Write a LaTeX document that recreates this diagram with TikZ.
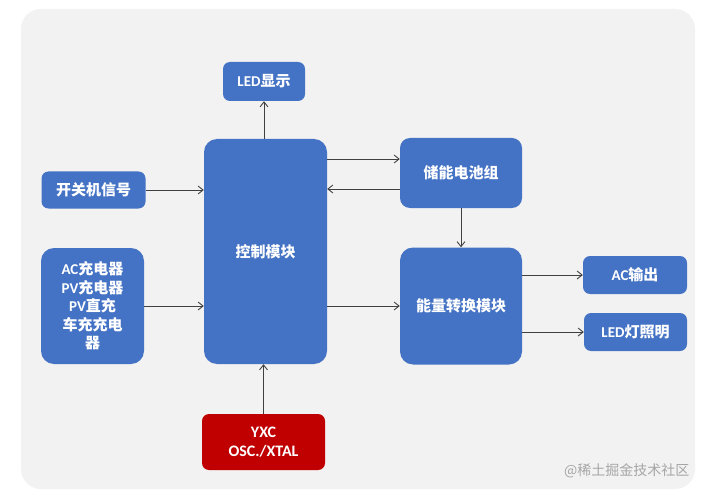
\documentclass[tikz,border=0pt]{standalone}
\usepackage{fontspec}
\setmainfont{Carlito}
\newfontfamily\cjk{Noto Sans CJK SC}
\newfontfamily\latf{Carlito}
\newcommand\lat[1]{{\latf\bfseries #1}}
\usetikzlibrary{arrows.meta}
\definecolor{bgray}{HTML}{F2F2F2}
\definecolor{boxblue}{HTML}{4472C4}
\definecolor{boxred}{HTML}{C00000}
\definecolor{linec}{HTML}{404040}
\definecolor{wm}{HTML}{A6A6A6}
\tikzset{
  blk/.style={draw=none, fill=boxblue, rounded corners=7pt, text=white, align=center,
    font=\cjk\bfseries\fontsize{15}{18.5}\selectfont, inner sep=0pt},
  bigblk/.style={blk, rounded corners=13pt},
  redblk/.style={blk, fill=boxred, rounded corners=7pt, font=\latf\bfseries\fontsize{16}{19}\selectfont},
  arr/.style={draw=linec, line width=0.9pt, -{Straight Barb[length=5pt,width=8pt]}}
}
\begin{document}
\begin{tikzpicture}[x=1pt,y=-1pt]
\useasboundingbox (0,0) rectangle (708,494);
\fill[white] (0,0) rectangle (708,494);
\fill[bgray, rounded corners=20pt] (21,9) rectangle (695,489);

\node[blk, minimum width=82pt, minimum height=39pt] (led) at (264,81.5) {\lat{LED}显示};
\node[bigblk, minimum width=123pt, minimum height=225pt] (ctrl) at (265.5,251.5) {\raisebox{-2pt}{控制模块}};
\node[blk, minimum width=104pt, minimum height=37pt] (sw) at (93.5,190) {开关机信号};
\node[bigblk, minimum width=103pt, minimum height=116pt] (ac) at (92.5,306) {\lat{AC}充电器\\\lat{PV}充电器\\\lat{PV}直充\\车充充电\\器};
\node[redblk, minimum width=123pt, minimum height=56pt] (yxc) at (263.5,442) {YXC\\OSC./XTAL};
\node[blk, rounded corners=10pt, minimum width=122pt, minimum height=70pt] (batt) at (461,173) {储能电池组};
\node[bigblk, minimum width=122pt, minimum height=117pt] (en) at (461,306) {能量转换模块};
\node[blk, minimum width=104pt, minimum height=38pt] (acout) at (635,275) {\lat{AC}输出};
\node[blk, minimum width=103pt, minimum height=38pt] (ledl) at (635.5,332) {\lat{LED}灯照明};

\node[text=wm, font=\cjk\fontsize{14}{16}\selectfont, anchor=east] (wmk) at (693,471) {@稀土掘金技术社区};

\draw[arr] (led.south |- ctrl.north) -- (led.south);
\draw[arr] (sw.east) -- (sw.east -| ctrl.west);
\draw[arr] (ac.east) -- (ac.east -| ctrl.west);
\draw[arr] (yxc.north) -- (yxc.north |- ctrl.south);
\draw[arr] ([yshift=14pt]batt.west -| ctrl.east) -- ([yshift=14pt]batt.west);
\draw[arr] ([yshift=-16pt]batt.west) -- ([yshift=-16pt]batt.west -| ctrl.east);
\draw[arr] (ctrl.east |- en.west) -- (en.west);
\draw[arr] (batt.south) -- (batt.south |- en.north);
\draw[arr] (acout.west -| en.east) -- (acout.west);
\draw[arr] (ledl.west -| en.east) -- (ledl.west);
\end{tikzpicture}
\end{document}
